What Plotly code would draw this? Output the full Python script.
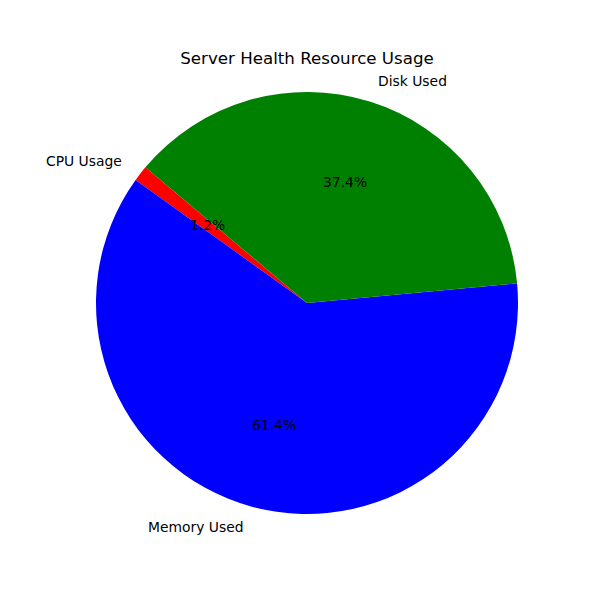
import math
import plotly.graph_objects as go

labels = ["CPU Usage", "Memory Used", "Disk Used"]
values = [1.2, 61.4, 37.4]
colors = ["red", "blue", "green"]
start_angle = 140  # degrees, counterclockwise from 3 o'clock

W, H = 600, 600
cx, cy, R = 307, 303, 211
ml, mr, mt, mb = cx - R, W - (cx + R), cy - R, H - (cy + R)

total = sum(values)
first_span = values[0] / total * 360

fig = go.Figure(go.Pie(
    labels=labels, values=values, sort=False, direction="counterclockwise",
    rotation=90 - start_angle - first_span,
    marker=dict(colors=colors, line=dict(width=0)),
    textinfo="none", hoverinfo="label+percent", showlegend=False,
))

ann = []
theta = start_angle
font = dict(family="DejaVu Sans", size=13.89, color="black")
for lab, v in zip(labels, values):
    frac = v / total
    mid = math.radians(theta + frac * 360 / 2)
    theta += frac * 360
    c, s = math.cos(mid), math.sin(mid)
    # outer label at 1.1 R
    ann.append(dict(x=0.5 + 0.55 * c, y=0.5 + 0.55 * s, xref="paper", yref="paper",
                    text=lab, showarrow=False, font=font,
                    xanchor="left" if c >= 0 else "right", yanchor="middle"))
    # percentage at 0.6 R
    ann.append(dict(x=0.5 + 0.3 * c, y=0.5 + 0.3 * s, xref="paper", yref="paper",
                    text=f"{frac*100:.1f}%", showarrow=False, font=font,
                    xanchor="center", yanchor="middle"))

fig.update_layout(
    width=W, height=H, margin=dict(l=ml, r=mr, t=mt, b=mb),
    paper_bgcolor="white", plot_bgcolor="white",
    title=dict(text="Server Health Resource Usage", x=cx / W, xanchor="center",
               y=1 - 58 / H, yanchor="middle", yref="container",
               font=dict(family="DejaVu Sans", size=16.67, color="black")),
    annotations=ann,
)
fig.write_html("out.html")
